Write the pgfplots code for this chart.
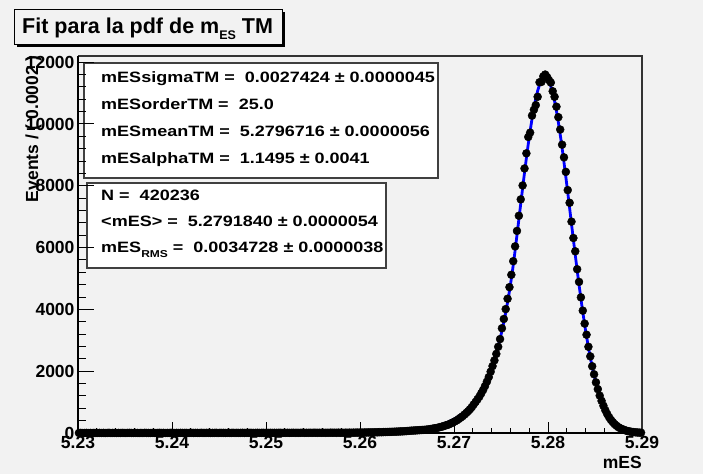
\documentclass[border=0pt]{standalone}
\usepackage{pgfplots}
\usepackage{pgfplotstable}
\pgfplotsset{compat=1.18}
\usepackage{fontspec}
\setmainfont{Liberation Sans}
\definecolor{bg}{RGB}{242,242,242}
\definecolor{rootblue}{RGB}{0,0,255}

\pgfplotstableread[row sep=\\]{
x y \\
5.2301 1 \\ 5.2303 3 \\ 5.2305 0 \\ 5.2307 2 \\ 5.2309 4 \\ 5.2311 1 \\ 5.2313 2 \\ 5.2315 0 \\ 5.2317 3 \\ 5.2319 1 \\
5.2321 2 \\ 5.2323 4 \\ 5.2325 1 \\ 5.2327 3 \\ 5.2329 0 \\ 5.2331 2 \\ 5.2333 5 \\ 5.2335 1 \\ 5.2337 3 \\ 5.2339 2 \\
5.2341 0 \\ 5.2343 3 \\ 5.2345 1 \\ 5.2347 4 \\ 5.2349 2 \\ 5.2351 1 \\ 5.2353 3 \\ 5.2355 5 \\ 5.2357 2 \\ 5.2359 1 \\
5.2361 4 \\ 5.2363 2 \\ 5.2365 0 \\ 5.2367 3 \\ 5.2369 1 \\ 5.2371 5 \\ 5.2373 2 \\ 5.2375 3 \\ 5.2377 1 \\ 5.2379 4 \\
5.2381 2 \\ 5.2383 1 \\ 5.2385 3 \\ 5.2387 5 \\ 5.2389 2 \\ 5.2391 4 \\ 5.2393 1 \\ 5.2395 3 \\ 5.2397 2 \\ 5.2399 6 \\
5.2401 3 \\ 5.2403 1 \\ 5.2405 4 \\ 5.2407 2 \\ 5.2409 5 \\ 5.2411 3 \\ 5.2413 2 \\ 5.2415 4 \\ 5.2417 1 \\ 5.2419 3 \\
5.2421 5 \\ 5.2423 2 \\ 5.2425 4 \\ 5.2427 3 \\ 5.2429 1 \\ 5.2431 6 \\ 5.2433 3 \\ 5.2435 2 \\ 5.2437 5 \\ 5.2439 4 \\
5.2441 2 \\ 5.2443 4 \\ 5.2445 3 \\ 5.2447 6 \\ 5.2449 1 \\ 5.2451 5 \\ 5.2453 3 \\ 5.2455 4 \\ 5.2457 2 \\ 5.2459 5 \\
5.2461 4 \\ 5.2463 3 \\ 5.2465 6 \\ 5.2467 2 \\ 5.2469 5 \\ 5.2471 3 \\ 5.2473 4 \\ 5.2475 7 \\ 5.2477 2 \\ 5.2479 5 \\
5.2481 3 \\ 5.2483 6 \\ 5.2485 4 \\ 5.2487 2 \\ 5.2489 5 \\ 5.2491 7 \\ 5.2493 3 \\ 5.2495 4 \\ 5.2497 6 \\ 5.2499 3 \\
5.2501 5 \\ 5.2503 4 \\ 5.2505 7 \\ 5.2507 3 \\ 5.2509 6 \\ 5.2511 4 \\ 5.2513 5 \\ 5.2515 8 \\ 5.2517 3 \\ 5.2519 6 \\
5.2521 5 \\ 5.2523 7 \\ 5.2525 4 \\ 5.2527 6 \\ 5.2529 8 \\ 5.2531 5 \\ 5.2533 6 \\ 5.2535 4 \\ 5.2537 7 \\ 5.2539 9 \\
5.2541 5 \\ 5.2543 7 \\ 5.2545 6 \\ 5.2547 8 \\ 5.2549 5 \\ 5.2551 9 \\ 5.2553 7 \\ 5.2555 6 \\ 5.2557 8 \\ 5.2559 7 \\
5.2561 9 \\ 5.2563 6 \\ 5.2565 8 \\ 5.2567 7 \\ 5.2569 10 \\ 5.2571 8 \\ 5.2573 9 \\ 5.2575 7 \\ 5.2577 11 \\ 5.2579 8 \\
5.2581 9 \\ 5.2583 6 \\ 5.2585 10 \\ 5.2587 8 \\ 5.2589 11 \\ 5.2591 9 \\ 5.2593 12 \\ 5.2595 10 \\ 5.2597 14 \\ 5.2599 12 \\
5.2601 15 \\ 5.2603 13 \\ 5.2605 17 \\ 5.2607 16 \\ 5.2609 19 \\ 5.2611 18 \\ 5.2613 21 \\ 5.2615 20 \\ 5.2617 24 \\ 5.2619 23 \\
5.2621 27 \\ 5.2623 26 \\ 5.2625 30 \\ 5.2627 31 \\ 5.2629 33 \\ 5.2631 35 \\ 5.2633 37 \\ 5.2635 40 \\ 5.2637 42 \\ 5.2639 45 \\
5.2641 48 \\ 5.2643 51 \\ 5.2645 54 \\ 5.2647 57 \\ 5.2649 61 \\ 5.2651 66 \\ 5.2653 72 \\ 5.2655 76 \\ 5.2657 80 \\ 5.2659 84 \\
5.2661 88 \\ 5.2663 92 \\ 5.2665 96 \\ 5.2667 100 \\ 5.2669 105 \\ 5.2671 110 \\ 5.2673 118 \\ 5.2675 128 \\ 5.2677 139 \\ 5.2679 150 \\
5.2681 160 \\ 5.2683 172 \\ 5.2685 190 \\ 5.2687 205 \\ 5.2689 222 \\ 5.2691 245 \\ 5.2693 262 \\ 5.2695 285 \\ 5.2697 318 \\ 5.2699 345 \\
5.2701 378 \\ 5.2703 410 \\ 5.2705 452 \\ 5.2707 495 \\ 5.2709 540 \\ 5.2711 592 \\ 5.2713 648 \\ 5.2715 705 \\ 5.2717 770 \\ 5.2719 840 \\
5.2721 925 \\ 5.2723 1005 \\ 5.2725 1090 \\ 5.2727 1178 \\ 5.2729 1285 \\ 5.2731 1395 \\ 5.2733 1520 \\ 5.2735 1660 \\ 5.2737 1810 \\ 5.2739 1985 \\
5.2741 2165 \\ 5.2743 2350 \\ 5.2745 2560 \\ 5.2747 2790 \\ 5.2749 3040 \\ 5.2751 3390 \\ 5.2753 3690 \\ 5.2755 4010 \\ 5.2757 4345 \\ 5.2759 4720 \\
5.2761 5120 \\ 5.2763 5560 \\ 5.2765 6040 \\ 5.2767 6540 \\ 5.2769 7030 \\ 5.2771 7560 \\ 5.2773 8010 \\ 5.2775 8560 \\ 5.2777 9050 \\ 5.2779 9580 \\
5.2781 9720 \\ 5.2783 10270 \\ 5.2785 10460 \\ 5.2787 10610 \\ 5.2789 10880 \\ 5.2791 11350 \\ 5.2793 11360 \\ 5.2795 11540 \\ 5.2797 11600 \\ 5.2799 11520 \\
5.2801 11420 \\ 5.2803 11340 \\ 5.2805 11060 \\ 5.2807 10880 \\ 5.2809 10560 \\ 5.2811 10220 \\ 5.2813 9820 \\ 5.2815 9330 \\ 5.2817 8920 \\ 5.2819 8450 \\
5.2821 7860 \\ 5.2823 7450 \\ 5.2825 6840 \\ 5.2827 6310 \\ 5.2829 5880 \\ 5.2831 5300 \\ 5.2833 4890 \\ 5.2835 4390 \\ 5.2837 3960 \\ 5.2839 3540 \\
5.2841 3180 \\ 5.2843 2790 \\ 5.2845 2480 \\ 5.2847 2160 \\ 5.2849 1900 \\ 5.2851 1640 \\ 5.2853 1420 \\ 5.2855 1210 \\ 5.2857 1040 \\ 5.2859 880 \\
5.2861 735 \\ 5.2863 612 \\ 5.2865 510 \\ 5.2867 420 \\ 5.2869 350 \\ 5.2871 285 \\ 5.2873 232 \\ 5.2875 188 \\ 5.2877 152 \\ 5.2879 124 \\
5.2881 99 \\ 5.2883 78 \\ 5.2885 62 \\ 5.2887 48 \\ 5.2889 38 \\ 5.2891 29 \\ 5.2893 23 \\ 5.2895 17 \\ 5.2897 13 \\ 5.2899 10 \\
}\datatab

\pgfplotstableread[row sep=\\]{
x y \\
5.2300 0.003 \\ 5.2321 0.005 \\ 5.2341 0.009 \\ 5.2361 0.014 \\ 5.2381 0.024 \\ 5.2401 0.040 \\ 5.2421 0.067 \\ 5.2441 0.115 \\ 5.2461 0.20 \\ 5.2481 0.35 \\
5.2501 0.62 \\ 5.2521 1.12 \\ 5.2541 2.04 \\ 5.2561 3.78 \\ 5.2563 4.03 \\ 5.2565 4.29 \\ 5.2567 4.57 \\ 5.2569 4.86 \\ 5.2571 5.18 \\ 5.2573 5.52 \\ 5.2575 5.88 \\ 5.2577 6.27 \\ 5.2579 6.68 \\
5.2581 7.12 \\ 5.2583 7.59 \\ 5.2585 8.10 \\ 5.2587 8.64 \\ 5.2589 9.21 \\ 5.2591 9.83 \\ 5.2593 10.49 \\ 5.2595 11.19 \\ 5.2597 11.95 \\ 5.2599 12.76 \\
5.2601 13.63 \\ 5.2603 14.55 \\ 5.2605 15.55 \\ 5.2607 16.61 \\ 5.2609 17.75 \\ 5.2611 18.97 \\ 5.2613 20.28 \\ 5.2615 21.68 \\ 5.2617 23.19 \\ 5.2619 24.80 \\
5.2621 26.52 \\ 5.2623 28.38 \\ 5.2625 30.37 \\ 5.2627 32.51 \\ 5.2629 34.81 \\ 5.2631 37.27 \\ 5.2633 39.93 \\ 5.2635 42.76 \\ 5.2637 45.80 \\ 5.2639 49.09 \\
5.2641 52.60 \\ 5.2643 56.37 \\ 5.2645 60.44 \\ 5.2647 64.82 \\ 5.2649 69.52 \\ 5.2651 74.58 \\ 5.2653 80.04 \\ 5.2655 85.89 \\ 5.2657 92.19 \\ 5.2659 98.99 \\
5.2661 106.3 \\ 5.2663 114.2 \\ 5.2665 122.6 \\ 5.2667 131.8 \\ 5.2669 141.6 \\ 5.2671 152.2 \\ 5.2673 163.7 \\ 5.2675 176.0 \\ 5.2677 189.4 \\ 5.2679 203.8 \\
5.2681 219.3 \\ 5.2683 236.0 \\ 5.2685 254.1 \\ 5.2687 273.7 \\ 5.2689 294.7 \\ 5.2691 317.4 \\ 5.2693 342.1 \\ 5.2695 368.6 \\ 5.2697 397.3 \\ 5.2699 428.5 \\
5.2701 462.1 \\ 5.2703 498.5 \\ 5.2705 538.0 \\ 5.2707 580.6 \\ 5.2709 626.7 \\ 5.2711 676.8 \\ 5.2713 730.9 \\ 5.2715 789.5 \\ 5.2717 852.9 \\ 5.2719 921.9 \\
5.2721 996.5 \\ 5.2723 1077.4 \\ 5.2725 1165.4 \\ 5.2727 1260.7 \\ 5.2729 1364.1 \\ 5.2731 1476.7 \\ 5.2733 1598.6 \\ 5.2735 1731.1 \\ 5.2737 1875.3 \\ 5.2739 2031.6 \\
5.2741 2202.1 \\ 5.2743 2387.0 \\ 5.2745 2588.0 \\ 5.2747 2807.4 \\ 5.2749 3045.5 \\ 5.2751 3304.6 \\ 5.2753 3587.8 \\ 5.2755 3895.2 \\ 5.2757 4230.3 \\ 5.2759 4596.2 \\
5.2761 4994.3 \\ 5.2763 5428.2 \\ 5.2765 5903.7 \\ 5.2767 6404.8 \\ 5.2769 6912.6 \\ 5.2771 7421.3 \\ 5.2773 7925.6 \\ 5.2775 8419.0 \\ 5.2777 8895.5 \\ 5.2779 9349.4 \\
5.2781 9775.0 \\ 5.2783 10165 \\ 5.2785 10514 \\ 5.2787 10819 \\ 5.2789 11072 \\ 5.2791 11271 \\ 5.2793 11414 \\ 5.2795 11497 \\ 5.2797 11518 \\ 5.2799 11479 \\
5.2801 11379 \\ 5.2803 11220 \\ 5.2805 11005 \\ 5.2807 10737 \\ 5.2809 10419 \\ 5.2811 10058 \\ 5.2813 9657 \\ 5.2815 9223 \\ 5.2817 8762 \\ 5.2819 8280 \\
5.2821 7783 \\ 5.2823 7276 \\ 5.2825 6767 \\ 5.2827 6260 \\ 5.2829 5761 \\ 5.2831 5272 \\ 5.2833 4800 \\ 5.2835 4347 \\ 5.2837 3915 \\ 5.2839 3509 \\
5.2841 3127 \\ 5.2843 2773 \\ 5.2845 2445 \\ 5.2847 2145 \\ 5.2849 1871 \\ 5.2851 1624 \\ 5.2853 1402 \\ 5.2855 1204 \\ 5.2857 1028 \\ 5.2859 873.5 \\
5.2861 738.3 \\ 5.2863 620.8 \\ 5.2865 518.9 \\ 5.2867 431.6 \\ 5.2869 357.1 \\ 5.2871 293.9 \\ 5.2873 240.5 \\ 5.2875 195.9 \\ 5.2877 158.7 \\ 5.2879 127.7 \\
5.2881 102.3 \\ 5.2883 81.6 \\ 5.2885 64.7 \\ 5.2887 51.0 \\ 5.2889 40.0 \\ 5.2891 31.3 \\ 5.2893 24.3 \\ 5.2895 18.7 \\ 5.2897 14.4 \\ 5.2899 11.0 \\
5.2900 9.6 \\
}\fittab

\begin{document}
\begin{tikzpicture}[x=1pt,y=1pt]
\fill[bg] (0,0) rectangle (703,474);
\useasboundingbox (0,0) rectangle (703,474);
% parameter box and statistics box
\draw[black!75, line width=1.2pt, fill=white] (84,296) rectangle (438,411);
\draw[black!75, line width=1.2pt, fill=white] (87,206) rectangle (386,291);
% title box with shadow
\fill[black] (16.5,426.5) rectangle (284.5,461.5);
\draw[black, line width=1pt, fill=bg] (14,429) rectangle (282,464);
\node[anchor=base west, inner sep=0pt, font=\fontsize{21.5}{22}\selectfont\bfseries] at (22,440)
  {Fit para la pdf de m\raisebox{-6pt}{\fontsize{12.5}{13}\selectfont ES} TM};
\begin{scope}[every node/.style={anchor=base west, inner sep=0pt, xscale=1.2, font=\fontsize{15}{15}\selectfont\bfseries}]
\node at (101,391.3) {mESsigmaTM = \ 0.0027424 ± 0.0000045};
\node at (101,364.5) {mESorderTM = \ 25.0};
\node at (101,337.8) {mESmeanTM = \ 5.2796716 ± 0.0000056};
\node at (101,310) {mESalphaTM = \ 1.1495 ± 0.0041};
\node at (101,273.5) {N = \ 420236};
\node at (101,247) {<mES> = \ 5.2791840 ± 0.0000054};
\node at (101,221) {mES\raisebox{-4.5pt}{\fontsize{10}{10}\selectfont RMS} = \ 0.0034728 ± 0.0000038};
\end{scope}
\begin{axis}[
  at={(78pt,41pt)}, anchor=south west,
  width=564pt, height=377pt, scale only axis,
  xmin=5.23, xmax=5.29, ymin=0, ymax=12200,
  clip=false,
  axis line style={draw=none},
  tick align=inside,
  xtick pos=bottom, ytick pos=left,
  xtick={5.23,5.24,5.25,5.26,5.27,5.28,5.29},
  xticklabels={5.23,5.24,5.25,5.26,5.27,5.28,5.29},
  ytick={0,2000,4000,6000,8000,10000,12000},
  yticklabels={0,2000,4000,6000,8000,10000,12000},
  minor x tick num=4, minor y tick num=4,
  scaled ticks=false,
  xtick style={black, line width=1pt, /pgfplots/major tick length=11pt, /pgfplots/minor tick length=5.5pt},
  ytick style={black, line width=1pt, /pgfplots/major tick length=16pt, /pgfplots/minor tick length=8pt},
  tick label style={font=\fontsize{17.5}{18}\selectfont\bfseries},
]
\addplot[only marks, mark=*, mark size=4pt, black] table[x=x, y=y] {\datatab};
\addplot[rootblue, line width=2.8pt, no marks] table[x=x, y=y] {\fittab};
\draw[black!80, line width=1.5pt] (rel axis cs:0,1) -- (rel axis cs:1,1) -- (rel axis cs:1,0);
\draw[black, line width=1.6pt] (rel axis cs:0,1) -- (rel axis cs:0,0) -- (rel axis cs:1,0);
\end{axis}
\node[rotate=90, anchor=base east, inner sep=0pt, font=\fontsize{17.5}{18}\selectfont\bfseries] at (38,419) {Events / ( 0.0002 )};
\node[anchor=base east, inner sep=0pt, font=\fontsize{17.5}{18}\selectfont\bfseries] at (642,6) {mES};
\end{tikzpicture}
\end{document}
